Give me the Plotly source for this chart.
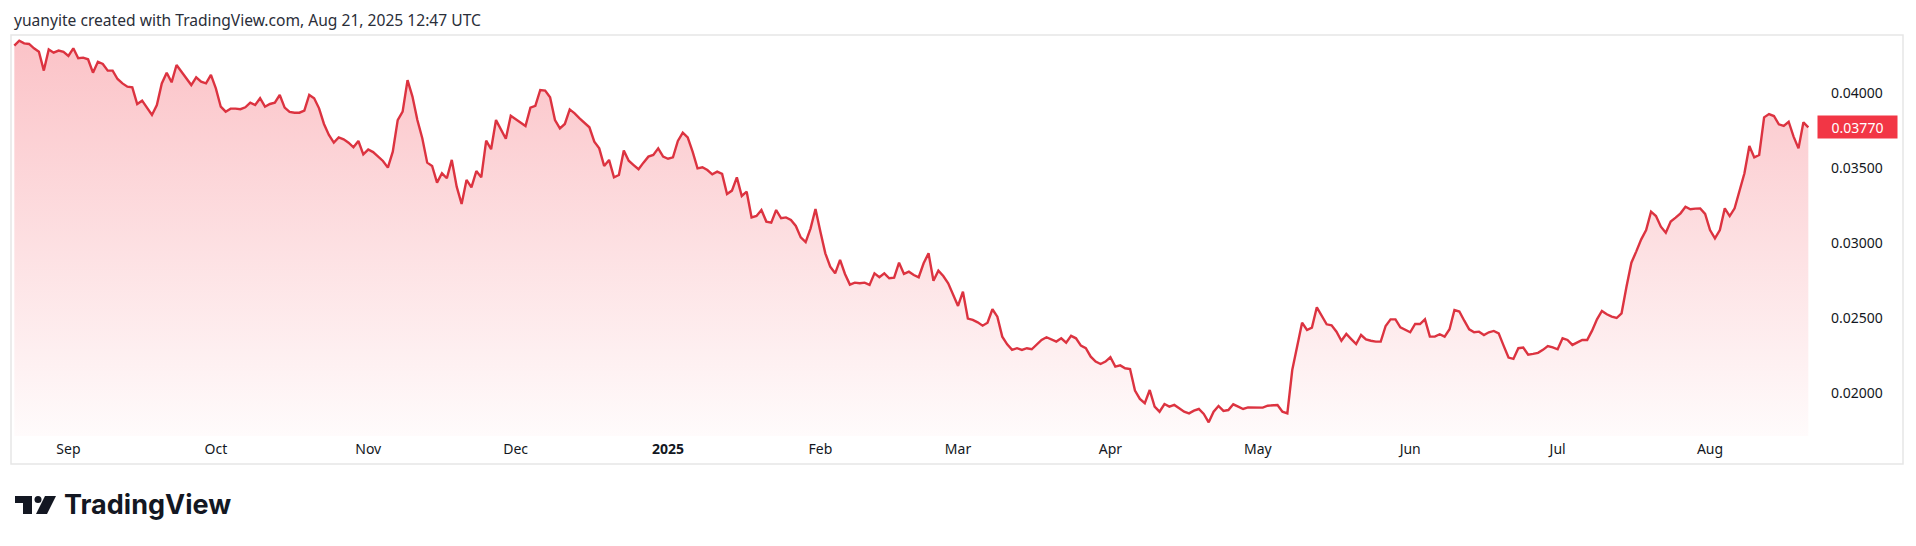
import pandas as pd
import plotly.graph_objects as go

# ---------------- data (daily values) ----------------
start_date = "2024-08-21"

aug24 = [0.04313, 0.04346, 0.04328, 0.04324, 0.04295, 0.04273, 0.04147, 0.04288, 0.04266, 0.04280, 0.04271]
sep24 = [0.04244, 0.04295, 0.04229, 0.04233, 0.04222, 0.04133, 0.04206, 0.04191, 0.04147, 0.04147,
         0.04091, 0.04062, 0.04040, 0.04036, 0.03925, 0.03947, 0.03896, 0.03852, 0.03918, 0.04062,
         0.04133, 0.04069, 0.04184, 0.04140, 0.04096, 0.04051, 0.04102, 0.04073, 0.04062, 0.04118]
oct24 = [0.04029, 0.03907, 0.03874, 0.03894, 0.03894, 0.03890, 0.03903, 0.03934, 0.03918, 0.03963,
         0.03907, 0.03925, 0.03934, 0.03985, 0.03901, 0.03872, 0.03867, 0.03867, 0.03881, 0.03985,
         0.03963, 0.03896, 0.03792, 0.03719, 0.03668, 0.03703, 0.03690, 0.03668, 0.03637, 0.03679, 0.03590]
nov24 = [0.03622, 0.03605, 0.03578, 0.03546, 0.03502, 0.03608, 0.03818, 0.03874, 0.04084, 0.03974,
         0.03818, 0.03697, 0.03535, 0.03513, 0.03402, 0.03464, 0.03431, 0.03553, 0.03375, 0.03260,
         0.03420, 0.03371, 0.03479, 0.03437, 0.03681, 0.03624, 0.03818, 0.03756, 0.03694, 0.03847]
dec24 = [0.03825, 0.03807, 0.03779, 0.03900, 0.03912, 0.04018, 0.04014, 0.03969, 0.03818, 0.03763,
         0.03792, 0.03889, 0.03863, 0.03830, 0.03801, 0.03770, 0.03674, 0.03630, 0.03513, 0.03553,
         0.03437, 0.03453, 0.03615, 0.03548, 0.03519, 0.03491, 0.03535, 0.03575, 0.03586, 0.03630, 0.03575]
jan25 = [0.03561, 0.03570, 0.03679, 0.03734, 0.03703, 0.03608, 0.03497, 0.03504, 0.03486, 0.03457,
         0.03475, 0.03460, 0.03327, 0.03349, 0.03437, 0.03313, 0.03342, 0.03171, 0.03180, 0.03220,
         0.03143, 0.03136, 0.03220, 0.03165, 0.03171, 0.03154, 0.03114, 0.03038, 0.03007, 0.03098, 0.03227]
feb25 = [0.03076, 0.02932, 0.02843, 0.02799, 0.02888, 0.02795, 0.02724, 0.02737, 0.02733, 0.02737,
         0.02722, 0.02799, 0.02773, 0.02799, 0.02766, 0.02770, 0.02870, 0.02795, 0.02810, 0.02788,
         0.02773, 0.02866, 0.02932, 0.02750, 0.02817, 0.02781, 0.02733, 0.02655]
mar25 = [0.02582, 0.02677, 0.02498, 0.02489, 0.02473, 0.02451, 0.02471, 0.02560, 0.02511, 0.02378,
         0.02327, 0.02290, 0.02301, 0.02290, 0.02301, 0.02294, 0.02323, 0.02356, 0.02374, 0.02360,
         0.02345, 0.02367, 0.02338, 0.02383, 0.02367, 0.02318, 0.02301, 0.02245, 0.02212, 0.02196, 0.02212]
apr25 = [0.02241, 0.02179, 0.02187, 0.02168, 0.02163, 0.02019, 0.01964, 0.01935, 0.02023, 0.01913,
         0.01879, 0.01930, 0.01913, 0.01924, 0.01902, 0.01879, 0.01868, 0.01886, 0.01897, 0.01864,
         0.01808, 0.01879, 0.01917, 0.01884, 0.01890, 0.01928, 0.01913, 0.01897, 0.01908, 0.01908]
may25 = [0.01906, 0.01906, 0.01919, 0.01924, 0.01924, 0.01879, 0.01868, 0.02156, 0.02311, 0.02471,
         0.02422, 0.02438, 0.02573, 0.02518, 0.02460, 0.02453, 0.02411, 0.02351, 0.02396, 0.02362,
         0.02329, 0.02389, 0.02360, 0.02351, 0.02345, 0.02345, 0.02449, 0.02493, 0.02493, 0.02440, 0.02422]
jun25 = [0.02407, 0.02462, 0.02462, 0.02493, 0.02378, 0.02378, 0.02394, 0.02378, 0.02427, 0.02555,
         0.02545, 0.02484, 0.02427, 0.02407, 0.02411, 0.02389, 0.02407, 0.02416, 0.02400, 0.02318,
         0.02239, 0.02230, 0.02301, 0.02305, 0.02258, 0.02263, 0.02270, 0.02290, 0.02316, 0.02307]
jul25 = [0.02294, 0.02367, 0.02356, 0.02323, 0.02338, 0.02356, 0.02356, 0.02418, 0.02493, 0.02549,
         0.02527, 0.02511, 0.02502, 0.02533, 0.02710, 0.02870, 0.02945, 0.03025, 0.03087, 0.03209,
         0.03180, 0.03109, 0.03069, 0.03143, 0.03169, 0.03198, 0.03242, 0.03225, 0.03229, 0.03231, 0.03194]
aug25 = [0.03087, 0.03032, 0.03087, 0.03231, 0.03180, 0.03231, 0.03353, 0.03464, 0.03646, 0.03570,
         0.03586, 0.03836, 0.03858, 0.03845, 0.03790, 0.03779, 0.03807, 0.03708, 0.03630, 0.03803, 0.03770]

month_ticks = ["2024-09-01", "2024-10-01", "2024-11-01", "2024-12-01", "2025-01-01", "2025-02-01",
               "2025-03-01", "2025-04-01", "2025-05-01", "2025-06-01", "2025-07-01", "2025-08-01"]
month_labels = ["Sep", "Oct", "Nov", "Dec", "<b>2025</b>", "Feb", "Mar", "Apr", "May", "Jun", "Jul", "Aug"]
price_ticks = [0.020, 0.025, 0.030, 0.035, 0.040]

title_text = "yuanyite created with TradingView.com, Aug 21, 2025 12:47 UTC"

# ---------------- build ----------------
values = aug24 + sep24 + oct24 + nov24 + dec24 + jan25 + feb25 + mar25 + apr25 + may25 + jun25 + jul25 + aug25
dates = pd.date_range(start_date, periods=len(values), freq="D")
last_value = values[-1]

W, H = 1916, 546
L, R, T, B = 12, 100, 36, 110
PW, PH = W - L - R, H - T - B
Y_RANGE = [0.017174, 0.04377]
X_RANGE = ["2024-08-20 12:36", "2025-08-22 13:26"]


def px(xp):
    return (xp - L) / PW


def py(yp):
    return (H - B - yp) / PH


RED = "#F23645"
LINE = "#DC3340"

fig = go.Figure()
fig.add_trace(go.Scatter(
    x=dates, y=values, mode="lines",
    line=dict(color=LINE, width=2.4),
    fill="tozeroy",
    fillgradient=dict(type="vertical", start=Y_RANGE[0], stop=max(values),
                      colorscale=[[0, "rgba(242,54,69,0.02)"], [1, "rgba(242,54,69,0.30)"]]),
    hoverinfo="skip", showlegend=False,
))

shapes = [
    # chart frame
    dict(type="rect", xref="paper", yref="paper", x0=px(11), x1=px(1903), y0=py(464), y1=py(35),
         line=dict(color="#E6E6E6", width=1.5), fillcolor="rgba(0,0,0,0)", layer="below"),
]

# TradingView logo glyph (decoration) in pixel space
lx, ly = 15, 496
def P(dx, dy):
    return f"{px(lx + dx):.6f},{py(ly + dy):.6f}"

logo_paths = [
    f"M{P(0,0)} L{P(17,0)} L{P(17,18)} L{P(8,18)} L{P(8,7)} L{P(0,7)} Z",
    f"M{P(30,0)} L{P(41,0)} L{P(32,18)} L{P(21,18)} Z",
]
for pth in logo_paths:
    shapes.append(dict(type="path", xref="paper", yref="paper", path=pth,
                       fillcolor="#131722", line=dict(width=0)))
shapes.append(dict(type="circle", xref="paper", yref="paper",
                   x0=px(lx + 19.5), x1=px(lx + 26.5), y0=py(ly + 7), y1=py(ly + 0),
                   fillcolor="#131722", line=dict(width=0)))

annotations = [
    dict(text=title_text, xref="paper", yref="paper", x=px(12), y=py(20),
         xanchor="left", yanchor="middle", showarrow=False,
         font=dict(family="Noto Sans", size=15.6, color="#2A2E39")),
    dict(text="<b>TradingView</b>", xref="paper", yref="paper", x=px(62), y=py(505),
         xanchor="left", yanchor="middle", showarrow=False,
         font=dict(family="Inter", size=27, color="#131722")),
    dict(text=f"{last_value:.5f}", xref="paper", yref="y", x=px(1817), y=last_value,
         xanchor="left", yanchor="middle", showarrow=False,
         bgcolor=RED, borderpad=3, width=73, height=16, align="center",
         font=dict(family="Noto Sans", size=14, color="#FFFFFF")),
]

fig.update_layout(
    width=W, height=H,
    margin=dict(l=L, r=R, t=T, b=B, pad=0),
    paper_bgcolor="#FFFFFF", plot_bgcolor="#FFFFFF",
    shapes=shapes, annotations=annotations,
    font=dict(family="Noto Sans", size=14, color="#131722"),
    xaxis=dict(range=X_RANGE, tickmode="array", tickvals=month_ticks, ticktext=month_labels,
               showgrid=False, zeroline=False, showline=False, ticks="",
               tickfont=dict(size=14, color="#131722"), ticklabelstandoff=3, fixedrange=True),
    yaxis=dict(range=Y_RANGE, side="right", tickmode="array", tickvals=price_ticks,
               tickformat=".5f", showgrid=False, zeroline=False, showline=False, ticks="",
               tickfont=dict(size=14, color="#131722"), ticklabelstandoff=14, fixedrange=True),
    hovermode=False,
)

fig.write_html("out.html", config=dict(displayModeBar=False, responsive=False),
               post_script="document.body.style.margin='0';document.body.style.overflow='hidden';")
